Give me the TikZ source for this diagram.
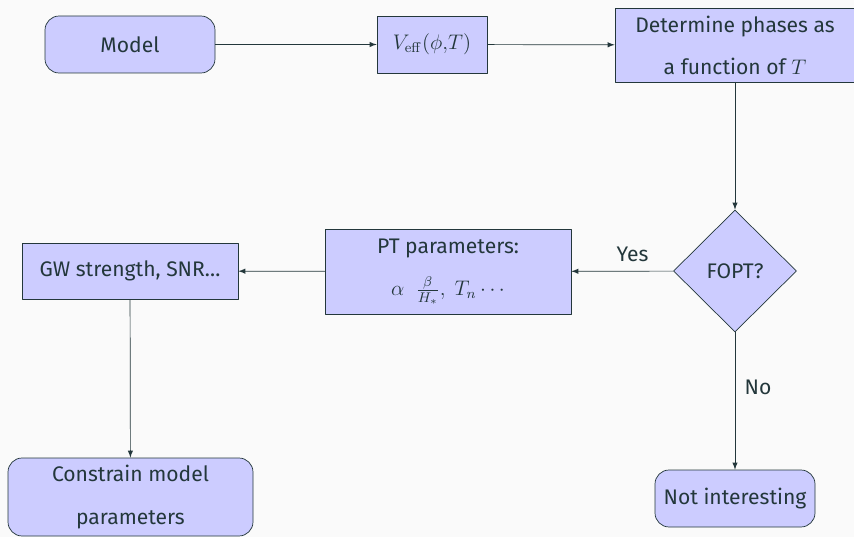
\documentclass[tikz,border=0pt]{standalone}
\usepackage[no-math]{fontspec}
\setmainfont{Fira Sans}
\usetikzlibrary{shapes.geometric}
\definecolor{darkteal}{HTML}{23373B}
\definecolor{bggray}{HTML}{FAFAFA}

\begin{document}
\begin{tikzpicture}[
        block/.style={rectangle,draw=darkteal,fill=blue!20,text=darkteal,align=center,inner sep=2pt},
        roundblock/.style={block,rounded corners=8pt},
        decision/.style={diamond,draw=darkteal,fill=blue!20,text=darkteal,inner sep=0pt,
            minimum width=2.46cm,minimum height=2.44cm},
        font=\fontsize{12}{24}\selectfont,
        >=latex,line cap=round,line join=round
    ]
    \fill[bggray] (0,0) rectangle (17.08,-10.74);
    \useasboundingbox (0,0) rectangle (17.08,-10.74);

    % top row
    \node[roundblock,minimum width=3.4cm,minimum height=1.14cm] (model) at (2.6,-0.89) {Model};
    \node[block,minimum width=2.2cm,minimum height=1.14cm] (veff) at (8.64,-0.89) {$V_{\mathrm{eff}}(\phi{,}T)$};
    \node[block,minimum width=4.8cm,minimum height=1.48cm] (phases) at (14.7,-0.9)
        {Determine phases as\\a function of $T$};

    % middle row
    \node[decision] (fopt) at (14.7,-5.42) {FOPT?};
    \node[block,minimum width=4.92cm,minimum height=1.7cm] (ptpar) at (8.96,-5.43)
        {PT parameters:\\$\alpha~~\frac{\beta}{H_*},~T_n\cdots$};
    \node[block,minimum width=4.32cm,minimum height=1.12cm] (gw) at (2.6,-5.42) {GW strength, SNR\ldots};

    % bottom row
    \node[roundblock,minimum width=4.9cm,minimum height=1.56cm] (constrain) at (2.61,-9.94)
        {Constrain model\\parameters};
    \node[roundblock,minimum width=3.2cm,minimum height=1.14cm] (boring) at (14.7,-9.97) {Not interesting};

    \draw[darkteal,->] (model) -- (veff);
    \draw[darkteal,->] (veff) -- (phases);
    \draw[darkteal,->] (phases) -- (fopt);
    \draw[darkteal,->] (fopt) -- node[above=2pt,pos=0.4,text=darkteal] {Yes} (ptpar);
    \draw[darkteal,->] (ptpar) -- (gw);
    \draw[darkteal,->] (gw) -- (constrain);
    \draw[darkteal,->] (fopt) -- node[right=2pt,pos=0.4,text=darkteal] {No} (boring);
\end{tikzpicture}
\end{document}
